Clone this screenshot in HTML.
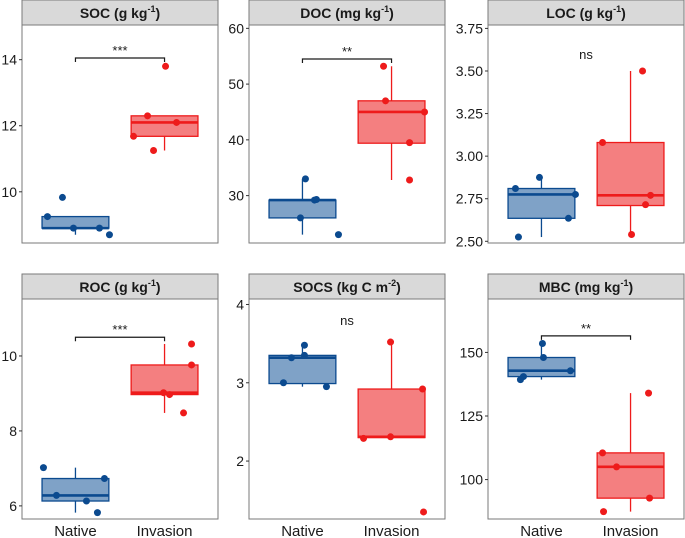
<!DOCTYPE html>
<html><head><meta charset="utf-8"><style>
html,body{margin:0;padding:0;background:#fff;}
svg{display:block;font-family:"Liberation Sans",Arial,sans-serif;}
</style></head><body>
<svg id="chart" width="685" height="538" viewBox="0 0 685 538" xmlns="http://www.w3.org/2000/svg"></svg>
<script>
const panelTitles = ["SOC (g kg", "DOC (mg kg", "LOC (g kg", "ROC (g kg", "SOCS (kg C m", "MBC (mg kg"];
const titleSup = ["-1","-1","-1","-1","-2","-1"];
const categories = ["Native", "Invasion"];
const yTicks = [[10,12,14],[30,40,50,60],[2.50,2.75,3.00,3.25,3.50,3.75],[6,8,10],[2,3,4],[100,125,150]];
const tickLabels = [["10","12","14"],["30","40","50","60"],["2.50","2.75","3.00","3.25","3.50","3.75"],["6","8","10"],["2","3","4"],["100","125","150"]];
// [lowerWhisker, q1, median, q3, upperWhisker]
const nativeBox = [[8.7,8.9,8.9,9.25,9.25],[23,26,29.2,29.2,33],[2.525,2.635,2.775,2.81,2.875],[5.82,6.13,6.28,6.73,7.02],[2.95,2.99,3.32,3.35,3.48],[139.3,140.5,142.8,148,153.5]];
const invasionBox = [[11.25,11.68,12.1,12.3,12.3],[32.8,39.4,45,47,53.2],[2.54,2.71,2.77,3.08,3.50],[8.48,8.97,9.02,9.76,10.32],[2.29,2.30,2.31,2.92,3.52],[87.4,92.7,105,110.5,134]];
const nativePoints = [[9.25,9.83,8.9,8.9,8.7],[33,29.2,29.3,26,23],[2.81,2.875,2.775,2.635,2.525],[7.02,6.28,6.73,6.13,5.82],[3.48,3.35,3.32,3.0,2.95],[153.5,148,142.8,140.5,139.3]];
const invasionPoints = [[13.8,12.3,12.1,11.68,11.25],[53.2,47,45,39.5,32.8],[3.50,3.08,2.77,2.715,2.54],[10.32,9.76,9.02,8.97,8.48],[3.52,2.92,2.31,2.29,1.35],[134,110.5,105,92.7,87.4]];
const sigLabels = ["***","**","ns","***","ns","**"];
const sigY = [14.05,54.5,3.6,10.5,3.8,156.5];
const sigBracket = [true,true,false,true,false,true];
// y-domain per panel [min,max]
const yDomain = [[8.45,15.05],[21.5,60.6],[2.49,3.77],[5.65,11.52],[1.26,4.07],[84.5,171]];
// jitter offsets (px, horizontal only)
const jitN = [[-28,-13,-2,24,34],[3,12,14,-2,36],[-26,-2,34,27,-23],[-32,-19,29,11,22],[2,2,-11,-19,24],[1,2,29,-18,-21]];
const jitI = [[1,-17,12,-31,-11],[-8,-6,33,18,18],[12,-28,20,15,1],[27,27,-1,5,19],[-1,31,-1,-28,32],[18,-28,-14,19,-27]];

const svg = document.getElementById('chart');
const NS = "http://www.w3.org/2000/svg";
function mk(tag, attrs, parent){ const e=document.createElementNS(NS,tag); for(const k in attrs) e.setAttribute(k,attrs[k]); (parent||svg).appendChild(e); return e; }

const colX = [[22,218],[249,445],[488,684]];
const rowY = [[0,25,243],[274,299,519]];
const panelNames = ["soc","doc","loc","roc","socs","mbc"];

for(let p=0;p<6;p++){
  const [x0,x1] = colX[p%3];
  const [sTop,pTop,pBot] = rowY[Math.floor(p/3)];
  const g = mk('g',{});
  
  
  const W = x1-x0;
  const xPos = i => x0 + W*(0.6+1.0*i)/2.2;
  const [d0,d1] = yDomain[p];
  const yS = v => pBot - (v-d0)/(d1-d0)*(pBot-pTop);
  // plot bg
  mk('rect',{x:x0,y:pTop,width:W,height:pBot-pTop,fill:'#fff',stroke:'#7a7a7a','stroke-width':1},g);
  // strip
  const strip = mk('rect',{x:x0,y:sTop,width:W,height:pTop-sTop,fill:'#d9d9d9',stroke:'#7a7a7a','stroke-width':1},g);
  
  
  const t = mk('text',{x:(x0+x1)/2,y:sTop+18,'text-anchor':'middle','font-size':14,'font-weight':'bold',fill:'#1a1a1a'},g);
  
  
  t.textContent = panelTitles[p];
  const sup = document.createElementNS(NS,'tspan'); sup.setAttribute('font-size','9'); sup.setAttribute('dy','-6'); sup.textContent=titleSup[p]; t.appendChild(sup);
  const cl = document.createElementNS(NS,'tspan'); cl.setAttribute('dy','6'); cl.textContent=')'; t.appendChild(cl);
  // ticks
  yTicks[p].forEach((v,i)=>{
    const y=yS(v);
    mk('line',{x1:x0-3,x2:x0,y1:y,y2:y,stroke:'#333','stroke-width':1},g);
    const tl = mk('text',{x:x0-5,y:y+5,'text-anchor':'end','font-size':14,fill:'#1a1a1a'},g);
    
    
    tl.textContent = tickLabels[p][i];
  });
  // boxes
  [[nativeBox,nativePoints,jitN,'#0b4a8f','#7fa2c7'],[invasionBox,invasionPoints,jitI,'#ee1b1b','#f47f80']].forEach((s,ci)=>{
    const b=s[0][p], cx=xPos(ci), hw=W*0.375/2.2;
    mk('line',{x1:cx,x2:cx,y1:yS(b[0]),y2:yS(b[4]),stroke:s[3],'stroke-width':1.3},g);
    const r = mk('rect',{x:cx-hw,y:yS(b[3]),width:2*hw,height:Math.max(1,yS(b[1])-yS(b[3])),fill:s[4],stroke:s[3],'stroke-width':1.3},g);
    
    
    mk('line',{x1:cx-hw,x2:cx+hw,y1:yS(b[2]),y2:yS(b[2]),stroke:s[3],'stroke-width':2.6},g);
    s[1][p].forEach((v,k)=>{
      const c = mk('circle',{cx:cx+s[2][p][k],cy:yS(v),r:3.5,fill:s[3]},g);
      
      
    });
  });
  // significance
  const sy=yS(sigY[p]);
  if(sigBracket[p]){
    mk('path',{d:`M${xPos(0)},${sy+4}V${sy}H${xPos(1)}V${sy+4}`,fill:'none',stroke:'#1a1a1a','stroke-width':1.2},g);
  }
  const st = mk('text',{x:(xPos(0)+xPos(1))/2,y:sigBracket[p]?sy-3:sy+5,'text-anchor':'middle','font-size':sigBracket[p]?13:13,fill:'#1a1a1a'},g);
  
  
  st.textContent = sigLabels[p];
  // x labels bottom row
  if(p>=3){
    categories.forEach((c,i)=>{
      const xl = mk('text',{x:xPos(i),y:pBot+17,'text-anchor':'middle','font-size':15,fill:'#1a1a1a'},g);
      
      
      xl.textContent = c;
    });
  }
}
</script>
</body></html>
